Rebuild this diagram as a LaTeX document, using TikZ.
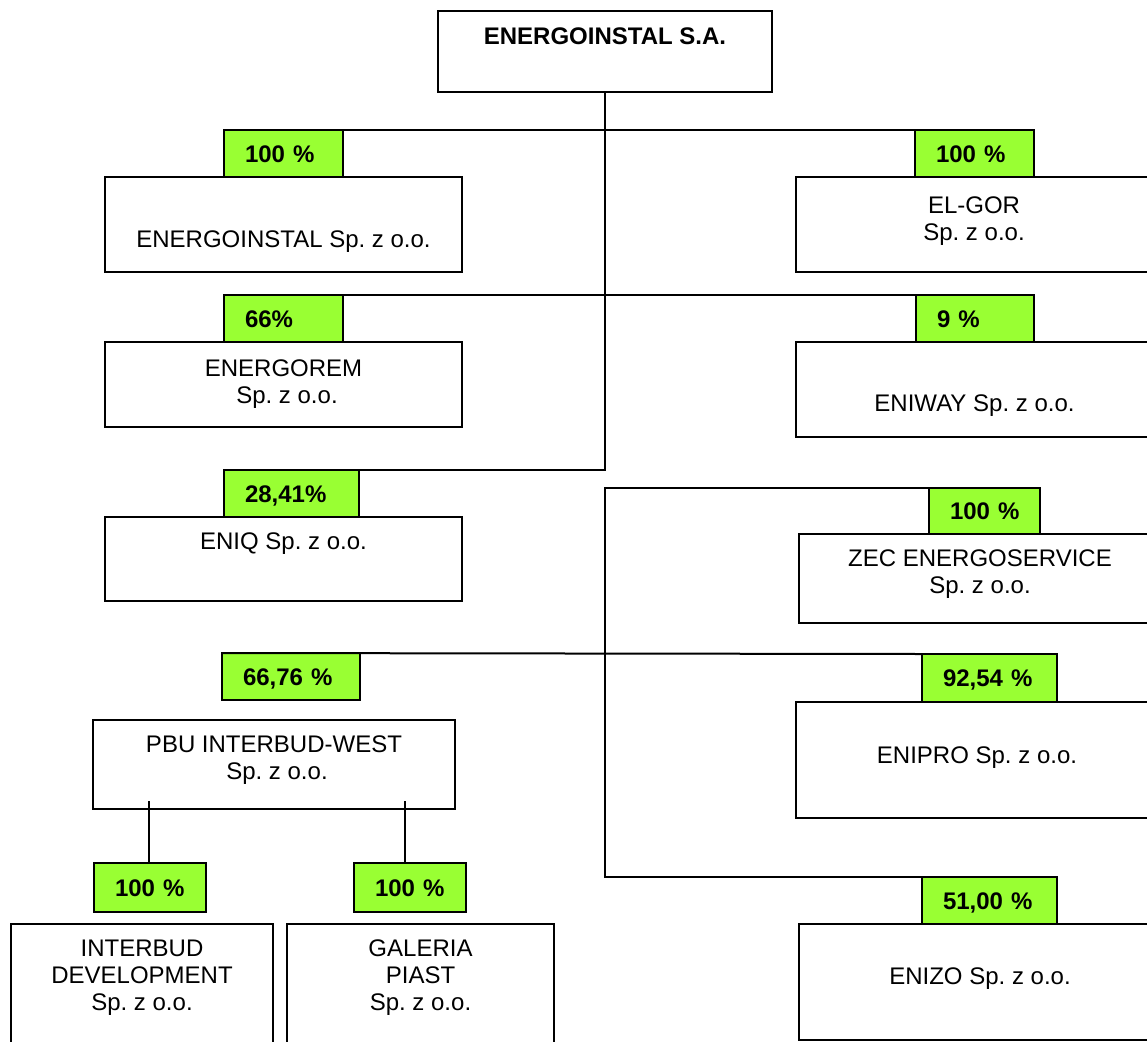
\documentclass[tikz,border=0pt]{standalone}
\usepackage{fontspec}
\setmainfont{Liberation Sans}
\frenchspacing
\begin{document}
\begin{tikzpicture}[x=1pt,y=-1pt,
  every node/.style={inner sep=0pt,outer sep=0pt},
  cbox/.style={draw=black,fill=white,line width=2pt,rectangle},
  gbox/.style={draw=black,fill=pctgreen,line width=2pt,rectangle,font=\fontsize{24}{27}\selectfont\bfseries,
     text height=17pt,text depth=0pt,align=left},
  ctext/.style={font=\fontsize{24}{27}\selectfont\frenchspacing,align=center,anchor=north},
  link/.style={line width=2pt,draw=black}]
\definecolor{pctgreen}{RGB}{153,255,51}
\useasboundingbox (0,0) rectangle (1147,1041);
\clip (0,0) rectangle (1147,1041);
\fill[white] (0,0) rectangle (1147,1041);

% helper: box from corners
\newcommand{\cbx}[5]{\node[cbox,minimum width={#4-#2},minimum height={#5-#3}] (#1) at ({(#2+#4)/2},{(#3+#5)/2}) {};}
\newcommand{\gbx}[6]{\node[gbox,minimum width={#4-#2},minimum height={#5-#3},text width={#4-#2}] (#1) at ({(#2+#4)/2},{(#3+#5)/2}) {\hspace*{21pt}\mbox{#6}};}

% company boxes
\cbx{top}{438}{11}{772}{92}
\cbx{bei}{105}{177}{462}{272}
\cbx{belgor}{796}{177}{1152}{272}
\cbx{benergorem}{105}{342}{462}{427}
\cbx{beniway}{796}{342}{1152}{437}
\cbx{beniq}{105}{517}{462}{601}
\cbx{bzec}{799}{534}{1152}{623}
\cbx{bpbu}{93}{720}{455}{809}
\cbx{benipro}{796}{702}{1152}{818}
\cbx{binterbud}{11}{924}{273}{1050}
\cbx{bgaleria}{287}{924}{554}{1050}
\cbx{benizo}{799}{924}{1152}{1040}

% texts
\node[ctext,font=\fontsize{24}{27}\selectfont\bfseries] (ttop) at (605,27.5) {ENERGOINSTAL S.A.};
\node[ctext] (tei) at (283.5,230.5) {ENERGOINSTAL Sp. z o.o.};
\node[ctext] (telgor) at (974,196.5) {EL-GOR\\Sp. z o.o.};
\node[ctext] (tenergorem) at (283.5,359.5) {ENERGOREM\\\hspace*{7pt}Sp. z o.o.};
\node[ctext] (teniway) at (974.5,394.5) {ENIWAY Sp. z o.o.};
\node[ctext] (teniq) at (283.5,532.5) {ENIQ Sp. z o.o.};
\node[ctext] (tzec) at (980,549.5) {ZEC ENERGOSERVICE\\Sp. z o.o.};
\node[ctext] (tpbu) at (274,735.5) {PBU INTERBUD-WEST\\\hspace*{6pt}Sp. z o.o.};
\node[ctext] (tenipro) at (977,746.5) {ENIPRO Sp. z o.o.};
\node[ctext] (tinterbud) at (142,940) {INTERBUD\\DEVELOPMENT\\Sp. z o.o.};
\node[ctext] (tgaleria) at (420.5,940) {GALERIA\\PIAST\\Sp. z o.o.};
\node[ctext] (tenizo) at (980,967.5) {ENIZO Sp. z o.o.};

% percentage boxes
\gbx{g1}{224}{130}{343}{177}{100 \%}
\gbx{g2}{915}{130}{1034}{177}{100 \%}
\gbx{g3}{224}{295}{343}{342}{66\%}
\gbx{g4}{916}{295}{1034}{342}{9 \%}
\gbx{g5}{224}{470}{359}{517}{28,41\%}
\gbx{g6}{929}{488}{1040}{534}{100 \%}
\gbx{g7}{222}{653}{360}{700}{66,76 \%}
\gbx{g8}{922}{654}{1057}{702}{92,54 \%}
\gbx{g9}{94}{863}{206}{912}{100 \%}
\gbx{g10}{354}{863}{466}{912}{100 \%}
\gbx{g11}{922}{877}{1057}{924}{51,00 \%}

% connectors
\coordinate (bl) at (605,877);
\coordinate (pa) at (149,801);
\coordinate (pb) at (405,801);
\draw[link] (top.south) |- (g5.north east);
\draw[link] (g1.north east) -- (g2.north west);
\draw[link] (g3.north east) -- (g4.north west);
\draw[link] (g6.north west) -| (bl) -- (g11.north west);
\draw[link] (g7.north west) -- (g8.north west);
\draw[link] (pa) -- (pa |- g9.north);
\draw[link] (pb) -- (pb |- g10.north);
\end{tikzpicture}
\end{document}
